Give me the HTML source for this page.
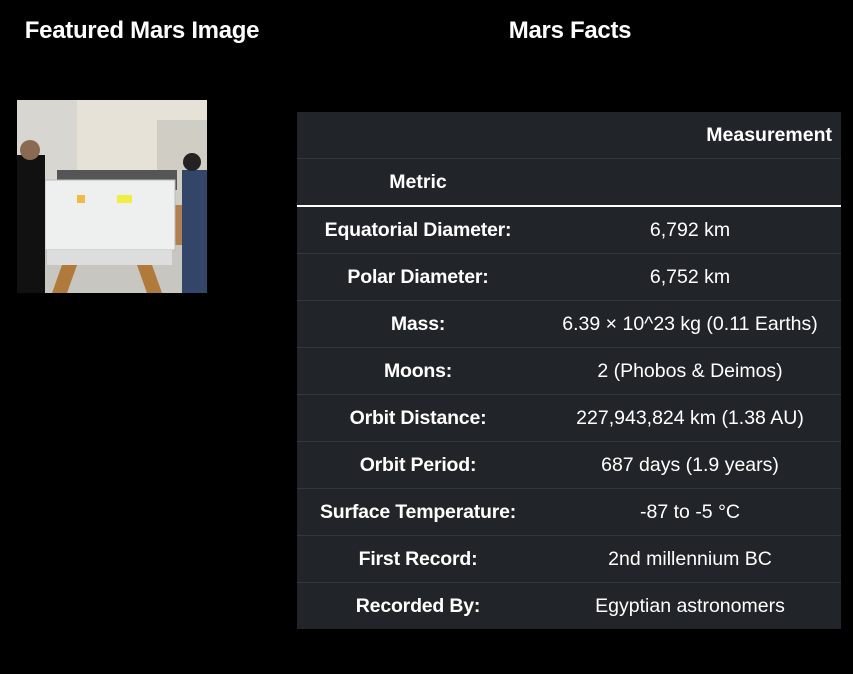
<!DOCTYPE html>
<html><head><meta charset="utf-8"><style>
body{margin:0;width:853px;height:674px;background:#000;color:#fff;font-family:"Liberation Sans",sans-serif;position:relative;overflow:hidden}
h2{position:absolute;margin:0;font-size:24px;font-weight:bold;top:17px;text-align:center;letter-spacing:-0.3px}
table{position:absolute;left:297px;top:112px;width:544px;border-collapse:collapse;background:#212529;font-size:19.5px}
td,th{height:46px;border-top:1px solid #32383e;padding:0 9px;text-align:center;white-space:nowrap}
tr:first-child th{border-top:none}
td:first-child{font-weight:bold;width:224px;letter-spacing:-0.2px}
thead tr:last-child th{border-bottom:2px solid #fff}
</style></head><body>
<h2 style="left:7px;width:270px">Featured Mars Image</h2>
<h2 style="left:435px;width:270px">Mars Facts</h2>
<svg style="position:absolute;left:17px;top:100px" width="190" height="193" viewBox="0 0 190 193">
<rect width="190" height="193" fill="#e6e2d8"/>
<rect x="0" y="0" width="60" height="120" fill="#d8d6d0"/>
<rect x="140" y="20" width="50" height="100" fill="#d0cdc4"/>
<rect x="0" y="135" width="190" height="58" fill="#c8c6c0"/>
<rect x="40" y="70" width="120" height="20" fill="#555"/>
<rect x="145" y="105" width="30" height="40" fill="#b08050"/>
<rect x="28" y="80" width="130" height="70" fill="#eef0f0" stroke="#bbb"/>
<rect x="30" y="150" width="125" height="15" fill="#ddd"/>
<polygon points="45,165 60,165 50,193 35,193" fill="#b07a3a"/>
<polygon points="120,165 135,165 145,193 130,193" fill="#b07a3a"/>
<rect x="0" y="55" width="28" height="138" fill="#111"/>
<circle cx="13" cy="50" r="10" fill="#8a6a50"/>
<rect x="165" y="70" width="25" height="123" fill="#34456a"/>
<circle cx="175" cy="62" r="9" fill="#222"/>
<rect x="100" y="95" width="15" height="8" fill="#ee4"/>
<rect x="60" y="95" width="8" height="8" fill="#eb4"/>
</svg>
<table>
<thead>
<tr><th></th><th style="text-align:right">Measurement</th></tr>
<tr><th style="width:224px">Metric</th><th></th></tr>
</thead>
<tbody>
<tr><td>Equatorial Diameter:</td><td>6,792 km</td></tr>
<tr><td>Polar Diameter:</td><td>6,752 km</td></tr>
<tr><td>Mass:</td><td>6.39 × 10^23 kg (0.11 Earths)</td></tr>
<tr><td>Moons:</td><td>2 (Phobos &amp; Deimos)</td></tr>
<tr><td>Orbit Distance:</td><td>227,943,824 km (1.38 AU)</td></tr>
<tr><td>Orbit Period:</td><td>687 days (1.9 years)</td></tr>
<tr><td>Surface Temperature:</td><td>-87 to -5 °C</td></tr>
<tr><td>First Record:</td><td>2nd millennium BC</td></tr>
<tr><td>Recorded By:</td><td>Egyptian astronomers</td></tr>
</tbody>
</table>
</body></html>
